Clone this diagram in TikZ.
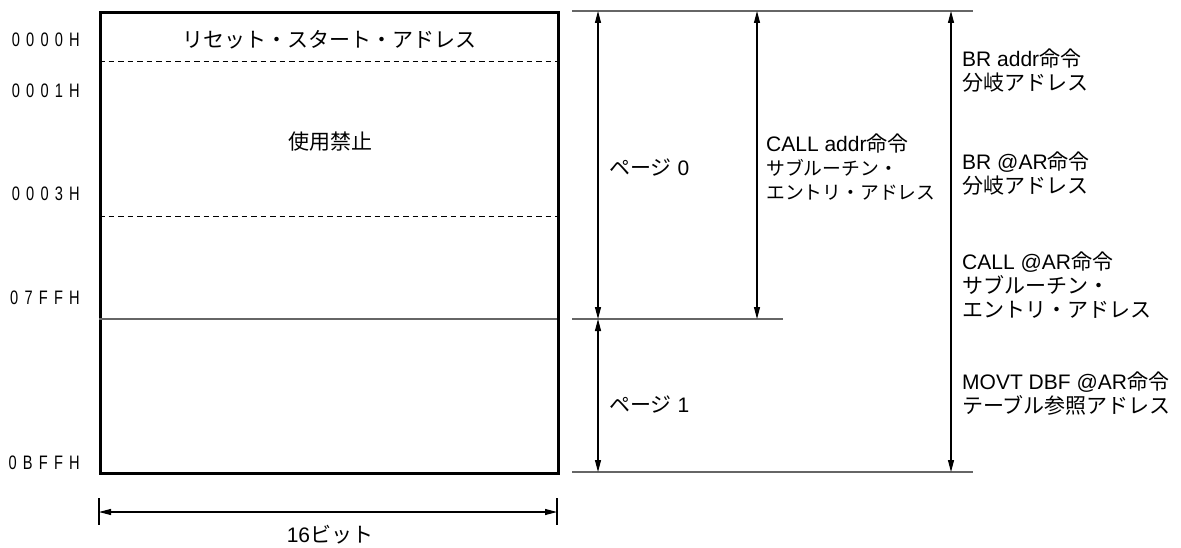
\documentclass[tikz,border=0pt]{standalone}
\usepackage{fontspec}
\setmainfont{Liberation Sans}
\newfontfamily\jp{Noto Sans CJK JP}
\usetikzlibrary{arrows.meta}
\newcommand{\J}[1]{{\jp #1}}
\newcommand{\Js}[1]{{\jp\fontsize{18.8}{23.5}\selectfont #1}}
\newcommand{\hexlab}[5]{\scalebox{0.75}[1]{#1\hspace{8.3pt}#2\hspace{8.3pt}#3\hspace{8.3pt}#4\hspace{8.3pt}#5}}
\tikzset{
  txt/.style={inner sep=0pt, font=\fontsize{21}{24}\selectfont, align=left},
  ctxt/.style={inner sep=0pt, font=\fontsize{21}{24}\selectfont},
  hex/.style={inner sep=0pt, anchor=east, font=\fontsize{19.5}{21}\selectfont},
  dimarr/.style={line width=1.1pt, {Triangle[length=12pt,width=6pt]}-{Triangle[length=12pt,width=6pt]}},
  guide/.style={line width=1.2pt, draw=black!60},
  sep/.style={line width=1pt, dash pattern=on 5.5pt off 4pt},
}
\begin{document}
\begin{tikzpicture}[x=1pt,y=-1pt]
\useasboundingbox (0,0) rectangle (1181,548);
% memory box
\node[draw, line width=2.6pt, minimum width=458pt, minimum height=461pt, inner sep=0pt, anchor=north west] (mem) at (99,11) {};
\coordinate (d1l) at (99,62); \coordinate (d1r) at (557,62);
\coordinate (d2l) at (99,217); \coordinate (d2r) at (557,217);
\coordinate (pl) at (99,319); \coordinate (pr) at (557,319);
\draw[sep] (d1l) -- (d1r);
\draw[sep] (d2l) -- (d2r);
\draw[guide] (pl) -- (pr);
\node[ctxt] (reset) at (329,40) {\J{リセット・スタート・アドレス}};
\node[ctxt] (forbid) at (330,142) {\J{使用禁止}};
% hex labels
\node[hex] (h0) at (80,40) {\hexlab 0000H};
\node[hex] (h1) at (80,91) {\hexlab 0001H};
\node[hex] (h3) at (80,194) {\hexlab 0003H};
\node[hex] (h7) at (80,298) {\hexlab 07FFH};
\node[hex] (hb) at (80,463) {\hexlab 0BFFH};
% guide lines right
\coordinate (gt0) at (572,11); \coordinate (gt1) at (973,11);
\coordinate (gm0) at (572,319); \coordinate (gm1) at (783,319);
\coordinate (gb0) at (572,472); \coordinate (gb1) at (973,472);
\draw[guide] (gt0) -- (gt1);
\draw[guide] (gm0) -- (gm1);
\draw[guide] (gb0) -- (gb1);
% arrows
\coordinate (a1t) at (598,11); \coordinate (a1m) at (598,319); \coordinate (a1b) at (598,472);
\coordinate (a2t) at (757,11); \coordinate (a2b) at (757,319);
\coordinate (a3t) at (951,11); \coordinate (a3b) at (951,472);
\draw[dimarr] (a1t) -- (a1m);
\draw[dimarr] (a1m) -- (a1b);
\draw[dimarr] (a2t) -- (a2b);
\draw[dimarr] (a3t) -- (a3b);
% labels
\node[txt, anchor=west] (p0) at (609,168) {\J{ページ} 0};
\node[txt, anchor=west] (p1) at (609,405) {\J{ページ} 1};
\node[txt, anchor=west] (calladdr) at (766,167) {CALL addr\J{命令}\\\Js{サブルーチン・}\\\Js{エントリ・アドレス}};
\node[txt, anchor=west] (braddr) at (962,71) {BR addr\J{命令}\\\J{分岐アドレス}};
\node[txt, anchor=west] (brar) at (962,174) {BR @AR\J{命令}\\\J{分岐アドレス}};
\node[txt, anchor=west] (callar) at (962,285) {CALL @AR\J{命令}\\\J{サブルーチン・}\\\J{エントリ・アドレス}};
\node[txt, anchor=west] (movt) at (962,394) {MOVT DBF @AR\J{命令}\\\J{テーブル参照アドレス}};
% width dimension
\coordinate (wl0) at (99,498); \coordinate (wl1) at (99,525);
\coordinate (wr0) at (557,498); \coordinate (wr1) at (557,525);
\coordinate (wal) at (99,512); \coordinate (war) at (557,512);
\draw[line width=1.1pt] (wl0) -- (wl1);
\draw[line width=1.1pt] (wr0) -- (wr1);
\draw[dimarr] (wal) -- (war);
\node[ctxt] (bits) at (330,535) {16\J{ビット}};
\end{tikzpicture}
\end{document}
